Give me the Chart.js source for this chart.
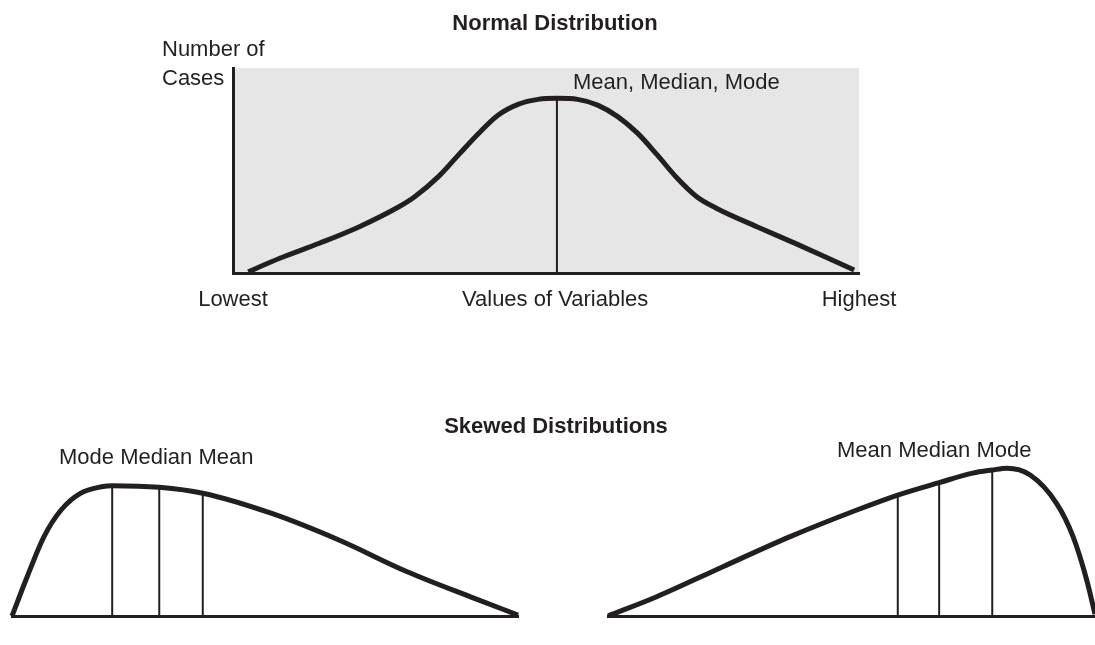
<!DOCTYPE html>
<html>
<head>
<meta charset="utf-8">
<title>Normal and Skewed Distributions</title>
<script src="https://cdn.jsdelivr.net/npm/chart.js@4.4.0/dist/chart.umd.min.js"></script>
<style>
  html, body { margin: 0; padding: 0; background: #fff; }
  body { position: relative; width: 1095px; height: 645px; overflow: hidden; }
  canvas { position: absolute; }
  #normal { left: 0; top: 0; }
  #skewLeft { left: 0; top: 400px; }
  #skewRight { left: 590px; top: 400px; }
</style>
</head>
<body>
<canvas id="normal" width="1095" height="330"></canvas>
<canvas id="skewLeft" width="1095" height="245"></canvas>
<canvas id="skewRight" width="505" height="245"></canvas>
<script>
const ink = '#231f20';
const face = '"Liberation Sans", Arial, Helvetica, sans-serif';

// normal curve: x runs lowest (0) -> highest (100), y = number of cases
const normalX = [0, 5.2, 11.7, 18.3, 24.8, 27.4, 31.3, 34.6, 37.9, 41.1, 44.5, 47.7, 50.8, 54.2, 57.5, 60.8, 64.1, 67.3, 70.6, 73.8, 77.1, 83.7, 90.2, 99.7];
const normalY = [0.6, 7.2, 14.5, 22.6, 32.3, 37.2, 47, 57.6, 68.1, 77, 82.4, 84.7, 85.2, 84.7, 81.9, 76.3, 68.1, 57.6, 46.2, 37.2, 31.5, 22.6, 14.2, 1.5];
const normalCentre = 50.8;   // mean = median = mode
const normalPeak = 85.2;
const tickValues = [-2.5, 50.5, 100.5];
const tickLabels = ['Lowest', 'Values of Variables', 'Highest'];

// positively skewed (tail to the right)
const leftX = [0, 3, 6.3, 9.7, 13.6, 17.7, 19.8, 29.1, 37.7, 51.2, 64.6, 78.1, 91.4, 100];
const leftY = [0, 21.8, 44, 58.9, 68.3, 71.8, 72.4, 71.5, 68.2, 57.1, 42.2, 24.6, 9.8, 0.5];
const leftMarks = [19.8, 29.1, 37.7];        // mode, median, mean
const leftMarkTops = [72.4, 71.5, 68.2];

// negatively skewed (tail to the left)
const rightX = [0, 10, 23.6, 37.4, 51.1, 59.5, 68, 74.9, 78.9, 81.9, 86.7, 92.1, 95.5, 98.3, 100];
const rightY = [0, 10.7, 27.4, 44.1, 58.9, 67.2, 74.1, 79.4, 81.1, 82.1, 78.3, 62.6, 44.1, 20, 1];
const rightMarks = [59.5, 68, 78.9];         // mean, median, mode
const rightMarkTops = [67.2, 74.1, 81.1];

function points(xs, ys) {
  return xs.map((x, i) => ({ x: x, y: ys[i] }));
}

function curve(xs, ys) {
  return {
    data: points(xs, ys),
    borderColor: ink,
    borderWidth: 5,
    pointRadius: 0,
    cubicInterpolationMode: 'monotone',
    clip: false
  };
}

function marker(x, top) {
  return {
    data: [{ x: x, y: 0 }, { x: x, y: top }],
    borderColor: ink,
    borderWidth: 2,
    pointRadius: 0,
    clip: false
  };
}

// plot background + free text labels
const notes = {
  id: 'notes',
  beforeDraw(chart, args, opts) {
    if (!opts.plotFill) return;
    const a = chart.chartArea;
    const ctx = chart.ctx;
    ctx.save();
    ctx.fillStyle = opts.plotFill;
    ctx.fillRect(a.left, a.top, a.right - a.left, a.bottom - a.top);
    ctx.restore();
  },
  afterDraw(chart, args, opts) {
    const ctx = chart.ctx;
    (opts.items || []).forEach(n => {
      ctx.save();
      ctx.font = (n.bold ? 'bold ' : '') + '22px ' + face;
      ctx.fillStyle = ink;
      ctx.textAlign = n.align || 'left';
      ctx.textBaseline = 'alphabetic';
      ctx.fillText(n.text, n.x, n.y);
      ctx.restore();
    });
  }
};

const hiddenGrid = { display: false, drawTicks: false };

new Chart(document.getElementById('normal'), {
  type: 'line',
  data: { datasets: [curve(normalX, normalY), marker(normalCentre, normalPeak)] },
  options: {
    responsive: false,
    animation: false,
    layout: { padding: { left: 233, right: 236, top: 68, bottom: 0 } },
    scales: {
      x: {
        type: 'linear', min: -2.5, max: 100.5,
        grid: hiddenGrid,
        border: { color: ink, width: 3 },
        afterBuildTicks: s => { s.ticks = tickValues.map(v => ({ value: v })); },
        afterFit: s => { s.height = 57; },
        ticks: {
          padding: 14, color: ink, autoSkip: false, maxRotation: 0,
          font: { family: face, size: 22 },
          callback: (v, i) => tickLabels[i]
        }
      },
      y: {
        min: 0, max: 100,
        grid: hiddenGrid,
        border: { color: ink, width: 3 },
        ticks: { display: false },
        afterFit: s => { s.width = 0; }
      }
    },
    plugins: {
      legend: { display: false },
      tooltip: { enabled: false },
      notes: {
        plotFill: '#e6e6e6',
        items: [
          { text: 'Normal Distribution', x: 555, y: 30, bold: true, align: 'center' },
          { text: 'Number of', x: 162, y: 56 },
          { text: 'Cases', x: 162, y: 85 },
          { text: 'Mean, Median, Mode', x: 573, y: 89 }
        ]
      }
    }
  },
  plugins: [notes]
});

function skewChart(id, xs, ys, marks, tops, padding, items) {
  const sets = [curve(xs, ys)];
  marks.forEach((m, i) => sets.push(marker(m, tops[i])));
  return new Chart(document.getElementById(id), {
    type: 'line',
    data: { datasets: sets },
    options: {
      responsive: false,
      animation: false,
      layout: { padding: padding },
      scales: {
        x: {
          type: 'linear', min: 0, max: 100,
          grid: hiddenGrid,
          border: { color: ink, width: 3 },
          ticks: { display: false },
          afterFit: s => { s.height = 0; }
        },
        y: { display: false, min: 0, max: 100 }
      },
      plugins: {
        legend: { display: false },
        tooltip: { enabled: false },
        notes: { items: items }
      }
    },
    plugins: [notes]
  });
}

skewChart('skewLeft', leftX, leftY, leftMarks, leftMarkTops,
  { left: 12, right: 577, top: 36, bottom: 29 },
  [
    { text: 'Skewed Distributions', x: 556, y: 33, bold: true, align: 'center' },
    { text: 'Mode Median Mean', x: 59, y: 64 }
  ]);

skewChart('skewRight', rightX, rightY, rightMarks, rightMarkTops,
  { left: 18, right: 0, top: 36, bottom: 29 },
  [
    { text: 'Mean Median Mode', x: 247, y: 57 }
  ]);
</script>
</body>
</html>
